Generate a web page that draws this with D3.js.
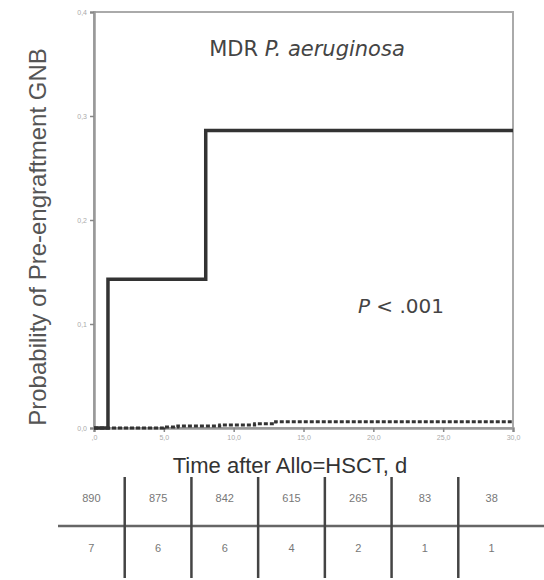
<!DOCTYPE html>
<html>
<head>
<meta charset="utf-8">
<script src="https://cdn.jsdelivr.net/npm/d3@7"></script>
<style>
  body { margin: 0; background: #fff; }
  svg { display: block; font-family: "Liberation Sans", Arial, sans-serif; }
</style>
</head>
<body>
<div id="chart"></div>
<script>
// step curves: [day, cumulative probability]
const mdrSteps = [[0, 0], [1, 0.143], [8, 0.286], [30, 0.286]];
const otherSteps = [[0, 0], [5, 0.001], [6, 0.002], [9, 0.003], [11.5, 0.004], [13, 0.006], [30, 0.006]];
const xTicks = [0, 5, 10, 15, 20, 25, 30];
const xTickLabels = [",0", "5,0", "10,0", "15,0", "20,0", "25,0", "30,0"];
const yTicks = [0, 0.1, 0.2, 0.3, 0.4];
const yTickLabels = ["0,0", "0,1", "0,2", "0,3", "0,4"];
const atRiskOther = [890, 875, 842, 615, 265, 83, 38];
const atRiskMdr = [7, 6, 6, 4, 2, 1, 1];

const W = 544, H = 580;
const svg = d3.select("#chart").append("svg")
    .attr("width", W).attr("height", H);

const x = d3.scaleLinear().domain([0, 30]).range([94, 513]);
const y = d3.scaleLinear().domain([0, 0.4]).range([428, 12]);

// frame
svg.append("rect")
    .attr("x", x(0)).attr("y", y(0.4))
    .attr("width", x(30) - x(0)).attr("height", y(0) - y(0.4))
    .attr("fill", "none").attr("stroke", "#aaa").attr("stroke-width", 2);

// axes
const xAxis = svg.append("g")
    .attr("transform", `translate(0,${y(0)})`)
    .call(d3.axisBottom(x).tickValues(xTicks).tickSize(4)
        .tickFormat((d, i) => xTickLabels[i]));
const yAxis = svg.append("g")
    .attr("transform", `translate(${x(0)},0)`)
    .call(d3.axisLeft(y).tickValues(yTicks).tickSize(4)
        .tickFormat((d, i) => yTickLabels[i]));

[xAxis, yAxis].forEach(g => {
    g.select(".domain").attr("stroke", "#999").attr("stroke-width", 2.5);
    g.selectAll(".tick line").attr("stroke", "#888").attr("stroke-width", 1.5);
    g.selectAll(".tick text").attr("fill", "#aaa").style("font-size", "7px");
});

// curves
const line = d3.line().x(d => x(d[0])).y(d => y(d[1])).curve(d3.curveStepAfter);

svg.append("path").datum(otherSteps)
    .attr("d", line)
    .attr("fill", "none").attr("stroke", "#333")
    .attr("stroke-width", 3).attr("stroke-dasharray", "4,2");

svg.append("path").datum(mdrSteps)
    .attr("d", line)
    .attr("fill", "none").attr("stroke", "#333")
    .attr("stroke-width", 3.5);

// annotations
const title = svg.append("text")
    .attr("x", 307).attr("y", 56)
    .attr("text-anchor", "middle")
    .attr("fill", "#444")
    .style("font-family", "'DejaVu Sans', sans-serif")
    .style("font-size", "21px");
title.append("tspan").text("MDR ");
title.append("tspan").style("font-style", "italic").text("P. aeruginosa");

const pval = svg.append("text")
    .attr("x", 401).attr("y", 313)
    .attr("text-anchor", "middle")
    .attr("fill", "#444")
    .style("font-family", "'DejaVu Sans', sans-serif")
    .style("font-size", "20px");
pval.append("tspan").style("font-style", "italic").text("P");
pval.append("tspan").text(" < .001");

// axis titles
svg.append("text")
    .attr("transform", "translate(46,237) rotate(-90)")
    .attr("text-anchor", "middle")
    .attr("fill", "#555").style("font-size", "24px")
    .text("Probability of Pre-engraftment GNB");

svg.append("text")
    .attr("x", 290).attr("y", 473)
    .attr("text-anchor", "middle")
    .attr("fill", "#333").style("font-size", "22px")
    .text("Time after Allo=HSCT, d");

// number-at-risk table
const col = d3.scaleBand().domain(d3.range(atRiskOther.length)).range([58, 525]);

svg.append("line")
    .attr("x1", 58).attr("x2", W).attr("y1", 526).attr("y2", 526)
    .attr("stroke", "#666").attr("stroke-width", 2.5);

svg.selectAll(".vsep").data(d3.range(1, atRiskOther.length))
    .join("line")
    .attr("x1", d => col(d)).attr("x2", d => col(d))
    .attr("y1", 477).attr("y2", 578)
    .attr("stroke", "#444").attr("stroke-width", 2.5);

svg.selectAll(".r1").data(atRiskOther)
    .join("text")
    .attr("x", (d, i) => col(i) + col.bandwidth() / 2)
    .attr("y", 502)
    .attr("text-anchor", "middle")
    .attr("fill", "#777").style("font-size", "11px")
    .text(d => d);

svg.selectAll(".r2").data(atRiskMdr)
    .join("text")
    .attr("x", (d, i) => col(i) + col.bandwidth() / 2)
    .attr("y", 552)
    .attr("text-anchor", "middle")
    .attr("fill", "#777").style("font-size", "11px")
    .text(d => d);
</script>
</body>
</html>
